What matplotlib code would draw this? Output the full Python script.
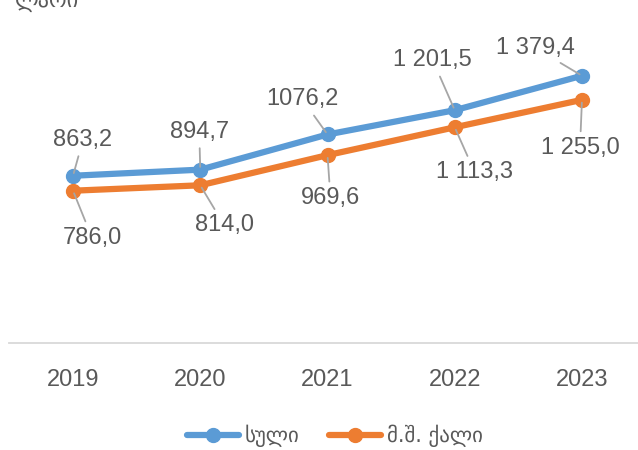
import matplotlib
matplotlib.use('Agg')
import matplotlib.pyplot as plt

years = ['2019', '2020', '2021', '2022', '2023']
total = [863.2, 894.7, 1076.2, 1201.5, 1379.4]
women = [786.0, 814.0, 969.6, 1113.3, 1255.0]
total_labels = ['863,2', '894,7', '1076,2', '1 201,5', '1 379,4']
women_labels = ['786,0', '814,0', '969,6', '1 113,3', '1 255,0']
series_names = ['სული', 'მ.შ. ქალი']
unit = 'ლარი'

# label offsets in pixels (dx, dy) from each point
total_offsets = [(10, 36), (-1, 38), (-25, 35), (-22, 50), (-47, 28)]
women_offsets = [(19, -47), (24, -40), (3, -43), (20, -45), (-2, -48)]

blue = '#5b9bd5'
orange = '#ed7d31'
text_color = '#595959'
fonts = ['Liberation Sans', 'DejaVu Sans']

plt.rcParams['font.family'] = fonts

fig = plt.figure(figsize=(6.38, 4.5), dpi=100)
ax = fig.add_axes([9.4 / 638, 107 / 450, 636.2 / 638, 310 / 450])

x = list(range(len(years)))
ax.plot(x, total, color=blue, lw=4.5, marker='o', ms=10, solid_capstyle='round',
        label=series_names[0], zorder=3)
ax.plot(x, women, color=orange, lw=4.5, marker='o', ms=10, solid_capstyle='round',
        label=series_names[1], zorder=3)

for xi, v, lab, off in zip(x, total, total_labels, total_offsets):
    ax.annotate(lab, (xi, v), xytext=off, textcoords='offset pixels',
                ha='center', va='center', fontsize=17, color=text_color,
                arrowprops=dict(arrowstyle='-', color='#a6a6a6', lw=1.3,
                                shrinkA=2, shrinkB=2))
for xi, v, lab, off in zip(x, women, women_labels, women_offsets):
    ax.annotate(lab, (xi, v), xytext=off, textcoords='offset pixels',
                ha='center', va='center', fontsize=17, color=text_color,
                arrowprops=dict(arrowstyle='-', color='#a6a6a6', lw=1.3,
                                shrinkA=2, shrinkB=2))

ax.set_xlim(-0.5, len(years) - 0.5)
ax.set_ylim(0, 1600)
ax.set_xticks(x)
ax.set_xticklabels(years, fontsize=17, color=text_color)
ax.set_yticks([])
ax.tick_params(axis='x', length=0, pad=19)
for side in ['top', 'right', 'left']:
    ax.spines[side].set_visible(False)
ax.spines['bottom'].set_color('#d9d9d9')
ax.spines['bottom'].set_linewidth(1.3)
ax.patch.set_alpha(0)

fig.text(15 / 638, 1.0, unit, ha='left', va='center', fontsize=16,
         color=text_color, family=['DejaVu Sans'])

fig.legend(loc='center', bbox_to_anchor=(335 / 638, 14 / 450), ncol=2,
           frameon=False, prop={'family': ['DejaVu Sans'], 'size': 15},
           labelcolor=text_color, handlelength=2.5, columnspacing=1.4,
           handletextpad=0.3)

fig.savefig('out.png', dpi=100)
